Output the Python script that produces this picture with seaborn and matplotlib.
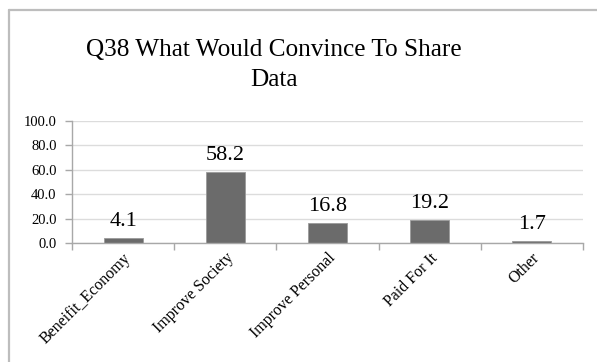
import numpy as np
import pandas as pd
import matplotlib
matplotlib.use("Agg")
import matplotlib.pyplot as plt
import seaborn as sns

# данные
categories = ["Beneifit_Economy", "Improve Society", "Improve Personal", "Paid For It", "Other"]
values = [4.1, 58.2, 16.8, 19.2, 1.7]
y_ticks = [0, 20, 40, 60, 80, 100]

df = pd.DataFrame({"category": categories, "value": values})

sns.set_style("white")
plt.rcParams["font.family"] = ["Liberation Serif", "DejaVu Serif"]
plt.rcParams["text.color"] = "black"
plt.rcParams["xtick.labelcolor"] = "black"
plt.rcParams["ytick.labelcolor"] = "black"

fig = plt.figure(figsize=(5.97, 3.62), dpi=100)
ax = fig.add_axes([72 / 597, 1 - 243 / 362, (583 - 72) / 597, (243 - 121) / 362])

sns.barplot(data=df, x="category", y="value", color="#6b6b6b", width=0.38,
            edgecolor="#9a9a9a", linewidth=0.6, saturation=1, ax=ax)

ax.set_ylim(0, 100)
ax.set_xlim(-0.5, len(categories) - 0.5)
ax.set_yticks(y_ticks)
ax.set_yticklabels([f"{v:.1f}" for v in y_ticks], fontsize=10.5)
ax.set_xlabel("")
ax.set_ylabel("")
ax.yaxis.grid(True, color="#dcdcdc", linewidth=1)
ax.set_axisbelow(True)

for s in ["top", "right"]:
    ax.spines[s].set_visible(False)
for s in ["left", "bottom"]:
    ax.spines[s].set_color("#a8a8a8")
    ax.spines[s].set_linewidth(1)

ax.tick_params(axis="y", length=5, width=1, color="#a8a8a8", pad=6, left=True)
ax.tick_params(axis="x", which="major", length=0, pad=5)
ax.set_xticks(np.arange(-0.5, len(categories)), minor=True)
ax.tick_params(axis="x", which="minor", length=5, width=1, color="#a8a8a8", bottom=True)
ax.set_xticks(range(len(categories)))
ax.set_xticklabels(categories, rotation=45, ha="right", rotation_mode="anchor", fontsize=11.5)

# подписи значений
for i, v in enumerate(values):
    ax.annotate(f"{v:.1f}", (i, v), xytext=(0, 8.5), textcoords="offset points",
                ha="center", va="baseline", fontsize=16)

fig.text(274 / 597, 1 - 65 / 362, "Q38 What Would Convince To Share\nData",
         ha="center", va="center", fontsize=18.2, linespacing=1.45)

# рамка диаграммы
fig.add_artist(plt.Line2D([9 / 597, 9 / 597], [0, 1 - 10 / 362], transform=fig.transFigure,
                          color="#bdbdbd", linewidth=1.6))
fig.add_artist(plt.Line2D([9 / 597, 1], [1 - 10 / 362, 1 - 10 / 362], transform=fig.transFigure,
                          color="#bdbdbd", linewidth=1.6))

fig.savefig("out.png", dpi=100)
